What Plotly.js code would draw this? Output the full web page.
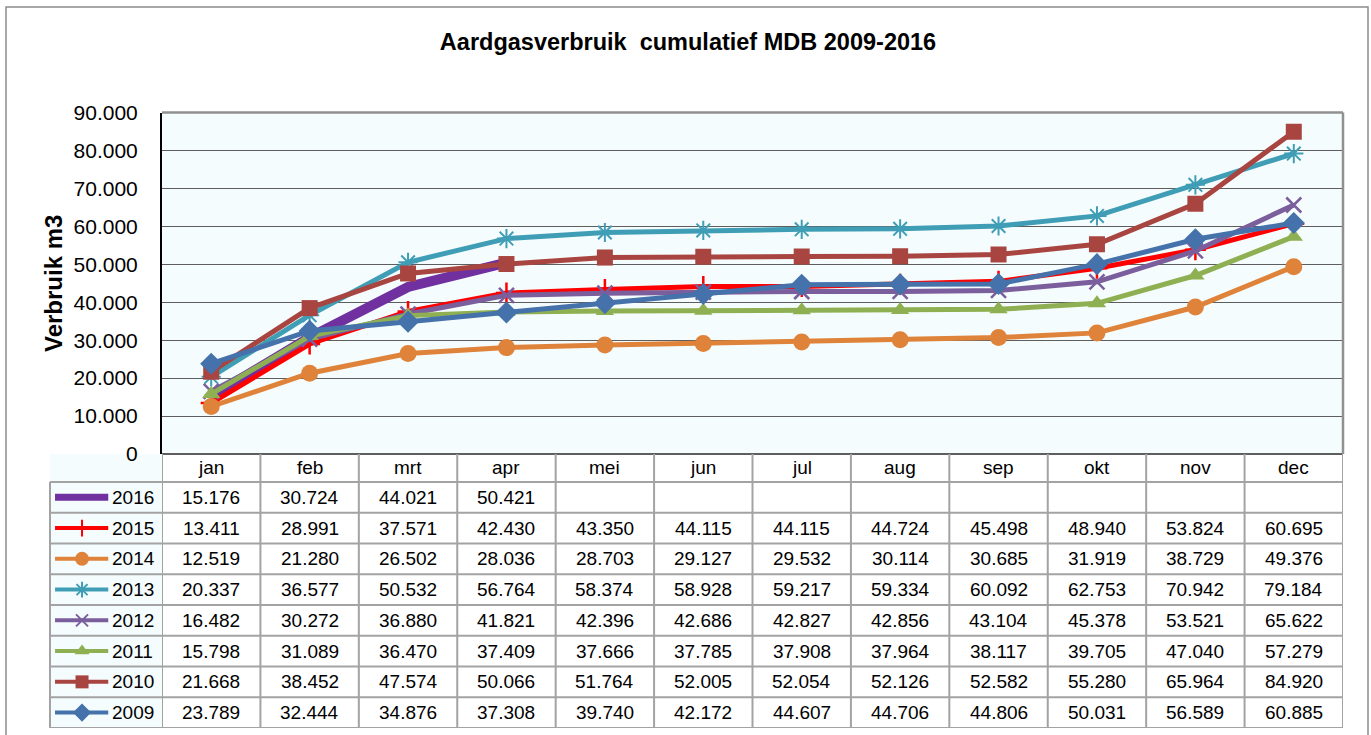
<!DOCTYPE html>
<html>
<head>
<meta charset="utf-8">
<script src="https://cdn.plot.ly/plotly-3.0.1.min.js"></script>
<style>html,body{margin:0;padding:0;background:#fff;}#chart{width:1371px;height:735px;}</style>
</head>
<body>
<div id="chart"></div>
<script>
const months = ['jan','feb','mrt','apr','mei','jun','jul','aug','sep','okt','nov','dec'];
const years = ['2016','2015','2014','2013','2012','2011','2010','2009'];
const v2016 = [15176, 30724, 44021, 50421];
const v2015 = [13411, 28991, 37571, 42430, 43350, 44115, 44115, 44724, 45498, 48940, 53824, 60695];
const v2014 = [12519, 21280, 26502, 28036, 28703, 29127, 29532, 30114, 30685, 31919, 38729, 49376];
const v2013 = [20337, 36577, 50532, 56764, 58374, 58928, 59217, 59334, 60092, 62753, 70942, 79184];
const v2012 = [16482, 30272, 36880, 41821, 42396, 42686, 42827, 42856, 43104, 45378, 53521, 65622];
const v2011 = [15798, 31089, 36470, 37409, 37666, 37785, 37908, 37964, 38117, 39705, 47040, 57279];
const v2010 = [21668, 38452, 47574, 50066, 51764, 52005, 52054, 52126, 52582, 55280, 65964, 84920];
const v2009 = [23789, 32444, 34876, 37308, 39740, 42172, 44607, 44706, 44806, 50031, 56589, 60885];
const seriesValues = [v2016, v2015, v2014, v2013, v2012, v2011, v2010, v2009];

const styles = [
  {color:'#7030A0', width:10, symbol:null, size:0},
  {color:'#FF0000', width:5, symbol:'cross-thin-open', size:15, lw:2.5},
  {color:'#DE8339', width:5, symbol:'circle', size:17},
  {color:'#3F9EB6', width:5, symbol:'asterisk-open', size:16, lw:2},
  {color:'#7B5E9C', width:5, symbol:'x-thin-open', size:15, lw:2.5},
  {color:'#8FB052', width:5, symbol:'triangle-up', size:16},
  {color:'#A84541', width:5, symbol:'square', size:16},
  {color:'#4572AA', width:5, symbol:'diamond', size:17}
];

const W = 1371, H = 735;
const px = x => x / W;
const py = y => 1 - y / H;
const FONT = 'Liberation Sans, Arial, sans-serif';

const traces = [];
seriesValues.forEach((vals, i) => {
  const s = styles[i];
  const t = {
    type:'scatter', x: months.slice(0, vals.length), y: vals, name: years[i],
    mode: s.symbol ? 'lines+markers' : 'lines',
    line:{color:s.color, width:s.width},
    xaxis:'x', yaxis:'y', showlegend:false, hoverinfo:'skip'
  };
  if (s.symbol) {
    const open = s.symbol.indexOf('open') >= 0;
    t.marker = {symbol:s.symbol, size:s.size, color:s.color,
      line: open ? {color:s.color, width:s.lw} : {width:0}};
  }
  traces.push(t);
});

// legend samples inside data table
seriesValues.forEach((vals, i) => {
  const s = styles[i];
  const row = i + 1;
  traces.push({type:'scatter', x:[0.045, 0.52], y:[row, row], mode:'lines',
    line:{color:s.color, width: i === 0 ? 7 : 4}, xaxis:'x2', yaxis:'y2',
    showlegend:false, hoverinfo:'skip'});
  if (s.symbol) {
    const open = s.symbol.indexOf('open') >= 0;
    traces.push({type:'scatter', x:[0.286], y:[row], mode:'markers',
      marker:{symbol:s.symbol, size:Math.round(s.size*0.8), color:s.color,
        line: open ? {color:s.color, width:2} : {width:0}},
      xaxis:'x2', yaxis:'y2', showlegend:false, hoverinfo:'skip'});
  }
});

const fmt = v => v.toString().replace(/\B(?=(\d{3})+(?!\d))/g, '.');

const annotations = [];
months.forEach((m, j) => {
  annotations.push({xref:'x', yref:'y2', x:j, y:0.045, text:m, showarrow:false,
    font:{family:FONT, size:19, color:'#000'}, xanchor:'center', yanchor:'middle'});
});
seriesValues.forEach((vals, i) => {
  vals.forEach((v, j) => {
    annotations.push({xref:'x', yref:'y2', x:j, y:i+1, text:fmt(v), showarrow:false,
      font:{family:FONT, size:19, color:'#000'}, xanchor:'center', yanchor:'middle'});
  });
  annotations.push({xref:'x2', yref:'y2', x:0.535, y:i+1, text:years[i], showarrow:false,
    font:{family:FONT, size:19, color:'#000'}, xanchor:'left', yanchor:'middle'});
});
annotations.push({xref:'paper', yref:'paper', x:px(53), y:py(284), text:'Verbruik m3',
  textangle:-90, showarrow:false, font:{family:FONT, size:24, color:'#000', weight:'bold'},
  xanchor:'center', yanchor:'middle'});

const gridCol = '#A3A3A3';
const shapes = [];
// outer chart border
shapes.push({type:'rect', xref:'paper', yref:'paper', x0:px(6), x1:px(1368), y0:-0.05, y1:py(7),
  line:{color:'#8C8C8C', width:1.5}, layer:'below'});
// plot area top & right border
shapes.push({type:'line', xref:'paper', yref:'paper', x0:px(162), x1:px(1343), y0:py(112.5), y1:py(112.5),
  line:{color:'#909090', width:2.5}});
shapes.push({type:'line', xref:'paper', yref:'paper', x0:px(1343), x1:px(1343), y0:py(454), y1:py(112.5),
  line:{color:'#909090', width:2.5}});
// table vertical lines
for (let k = 0; k <= months.length; k++) {
  shapes.push({type:'line', xref:'x', yref:'y2', x0:k-0.5, x1:k-0.5, y0:-0.41, y1:8.5,
    line:{color:gridCol, width:2}});
}
shapes.push({type:'line', xref:'paper', yref:'y2', x0:px(50), x1:px(50), y0:0.5, y1:8.5,
  line:{color:gridCol, width:2}});
// table horizontal lines
for (let r = 0; r <= years.length; r++) {
  shapes.push({type:'line', xref:'paper', yref:'y2', x0:px(50), x1:px(1343), y0:r+0.5, y1:r+0.5,
    line:{color:gridCol, width:2}});
}

const layout = {
  width:W, height:H,
  margin:{l:0, r:0, t:0, b:0},
  paper_bgcolor:'#FFFFFF',
  plot_bgcolor:'#F5FCFD',
  separators:',.',
  showlegend:false,
  hovermode:false,
  title:{text:'Aardgasverbruik  cumulatief MDB 2009-2016', x:px(688), y:py(42), xref:'paper', yref:'paper',
    xanchor:'center', yanchor:'middle', font:{family:FONT, size:23.5, color:'#000', weight:'bold'}},
  xaxis:{domain:[px(162), px(1343)], type:'category', categoryarray:months, categoryorder:'array',
    range:[-0.5, 11.5], showticklabels:false, ticks:'', showgrid:false, zeroline:false,
    showline:false, anchor:'y', fixedrange:true},
  yaxis:{domain:[py(454), py(112.5)], range:[0, 90000], dtick:10000, tickformat:',d',
    showgrid:true, gridcolor:'#5E5E5E', gridwidth:1, zeroline:true, zerolinecolor:'#5E5E5E', zerolinewidth:1.5,
    showline:true, linecolor:'#000', linewidth:2, ticks:'', ticklabelstandoff:18,
    tickfont:{family:FONT, size:21, color:'#000'}, anchor:'x', fixedrange:true},
  xaxis2:{domain:[px(50), px(162)], range:[0, 1], visible:false, anchor:'y2', fixedrange:true},
  yaxis2:{domain:[py(728), py(454)], range:[8.5, -0.41], visible:false, anchor:'x2', fixedrange:true},
  shapes:shapes,
  annotations:annotations
};

Plotly.newPlot('chart', traces, layout, {displayModeBar:false, staticPlot:true});
</script>
</body>
</html>
